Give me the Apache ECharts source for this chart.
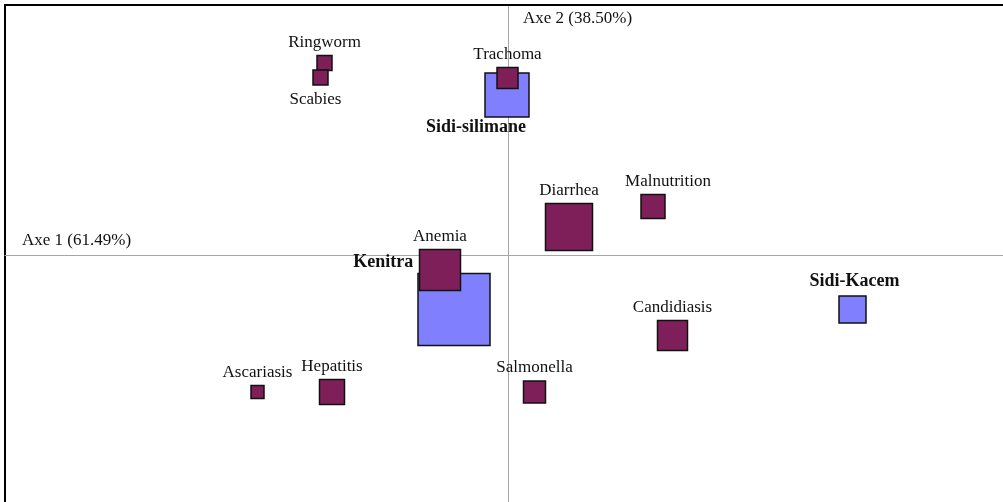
<!DOCTYPE html>
<html>
<head>
<meta charset="utf-8">
<script src="https://cdn.jsdelivr.net/npm/echarts@6/dist/echarts.min.js"></script>
<style>
html,body{margin:0;padding:0;background:#fff;}
#chart{width:1003px;height:502px;}
</style>
</head>
<body>
<div id="chart"></div>
<script>
// Column points (diseases)
var diseaseNames = ['Ringworm','Scabies','Trachoma','Diarrhea','Malnutrition','Anemia','Candidiasis','Ascariasis','Hepatitis','Salmonella'];
var diseaseAxis1 = [-0.368,-0.376,-0.002,0.121,0.289,-0.137,0.328,-0.502,-0.353,0.052];
var diseaseAxis2 = [0.385,0.356,0.355,0.057,0.098,-0.029,-0.160,-0.273,-0.273,-0.273];
var diseaseMass  = [15,15,21,47,24,41,30,13,25,22];

// Row points (regions)
var regionNames = ['Sidi-silimane','Kenitra','Sidi-Kacem'];
var regionAxis1 = [-0.003,-0.109,0.688];
var regionAxis2 = [0.321,-0.108,-0.108];
var regionMass  = [44,72,27];

var axisTitles = ['Axe 1 (61.49%)','Axe 2 (38.50%)'];

// label placement tweaks (style only)
var labelTweaks = {
  'Scabies': {position:'bottom', distance:5, offset:[-5,0]},
  'Malnutrition': {offset:[15,0]},
  'Sidi-silimane': {position:'bottom', distance:1, offset:[-31,0]},
  'Kenitra': {position:'left', distance:4, offset:[0,-47]},
  'Sidi-Kacem': {offset:[2,0]}
};

var FONT = '"Liberation Serif","Times New Roman",serif';

function buildData(names, xs, ys, masses){
  return names.map(function(n,i){
    var item = {name:n, value:[xs[i], ys[i]], symbolSize: masses[i]};
    if (labelTweaks[n]) item.label = labelTweaks[n];
    return item;
  });
}

var chart = echarts.init(document.getElementById('chart'), null, {renderer:'canvas'});
chart.setOption({
  animation:false,
  backgroundColor:'#fff',
  grid:{left:5, right:0, top:5, bottom:0, containLabel:false},
  xAxis:[
    {type:'value', min:-1.007, max:0.989, axisLine:{onZero:true, lineStyle:{color:'#a6a6a6', width:1}},
     axisTick:{show:false}, axisLabel:{show:false}, splitLine:{show:false}},
    {type:'value', position:'top', min:-1.007, max:0.989, axisLine:{onZero:false, lineStyle:{color:'#000', width:2}},
     axisTick:{show:false}, axisLabel:{show:false}, splitLine:{show:false}}
  ],
  yAxis:[
    {type:'value', min:-0.493, max:0.501, axisLine:{onZero:true, lineStyle:{color:'#a6a6a6', width:1}},
     axisTick:{show:false}, axisLabel:{show:false}, splitLine:{show:false}},
    {type:'value', position:'left', min:-0.493, max:0.501, axisLine:{onZero:false, lineStyle:{color:'#000', width:2}},
     axisTick:{show:false}, axisLabel:{show:false}, splitLine:{show:false}}
  ],
  graphic:[
    {type:'text', left:22, top:232, style:{text:axisTitles[0], font:'17px '+FONT, fill:'#111'}},
    {type:'text', left:523, top:10, style:{text:axisTitles[1], font:'17px '+FONT, fill:'#111'}}
  ],
  series:[
    {
      type:'scatter', name:'Regions', symbol:'rect',
      itemStyle:{color:'#8080ff', borderColor:'#111', borderWidth:1.5, opacity:1},
      label:{show:true, position:'top', distance:5, formatter:'{b}', color:'#111',
             fontFamily:FONT, fontSize:18, fontWeight:'bold'},
      data: buildData(regionNames, regionAxis1, regionAxis2, regionMass),
      z:2
    },
    {
      type:'scatter', name:'Diseases', symbol:'rect',
      itemStyle:{color:'#7f1f5a', borderColor:'#111', borderWidth:1.5, opacity:1},
      label:{show:true, position:'top', distance:4, formatter:'{b}', color:'#111',
             fontFamily:FONT, fontSize:17},
      data: buildData(diseaseNames, diseaseAxis1, diseaseAxis2, diseaseMass),
      z:3
    }
  ]
});
</script>
</body>
</html>
